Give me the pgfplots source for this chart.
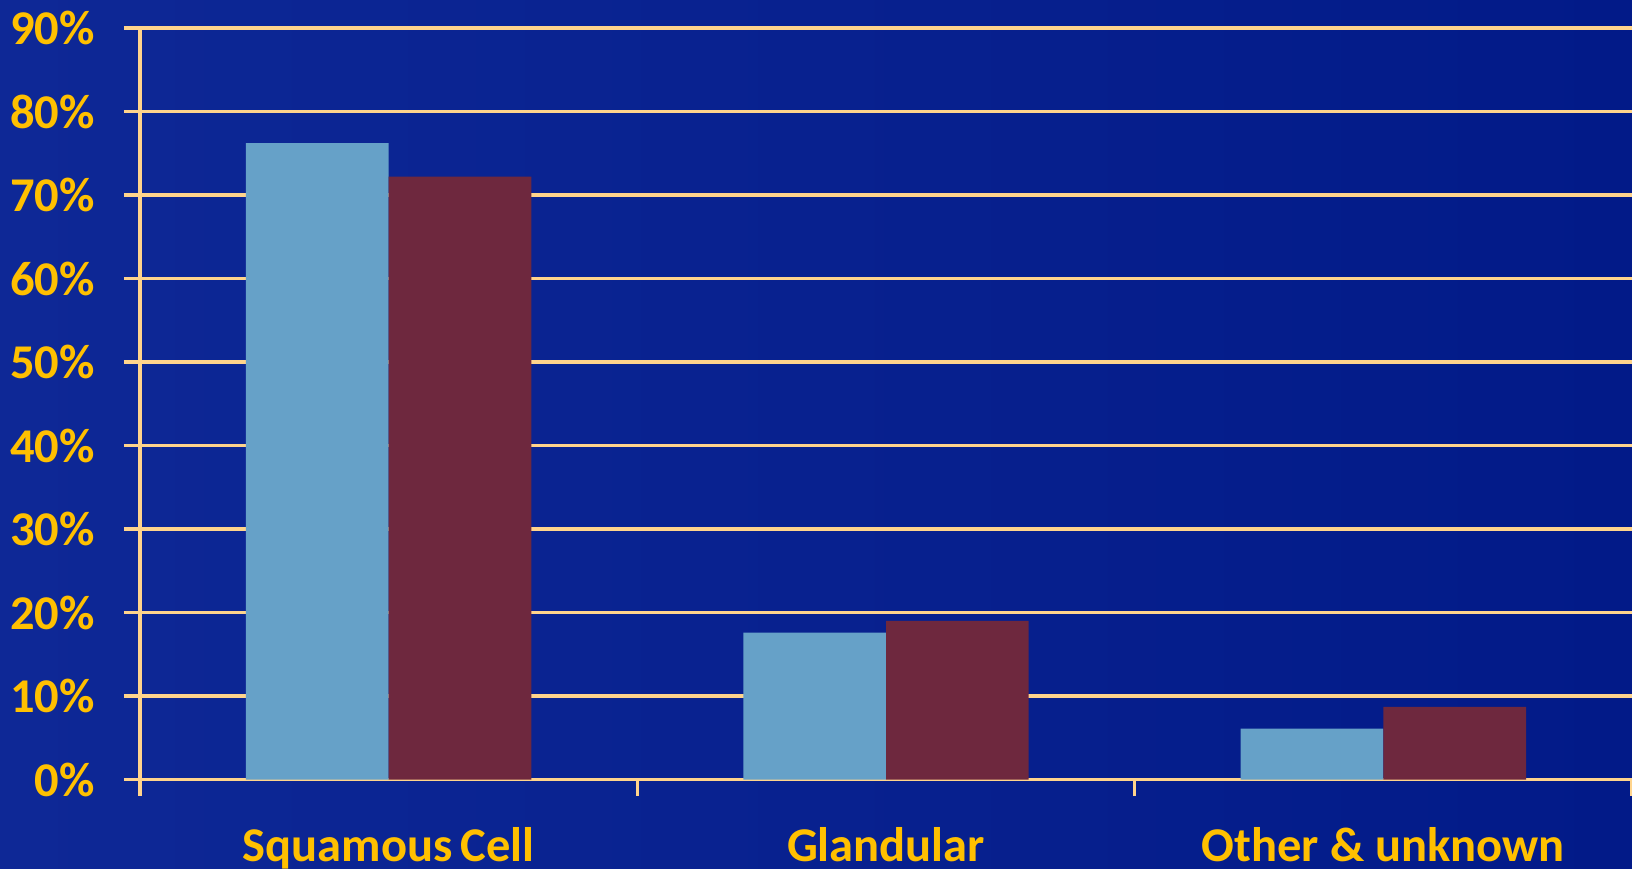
\documentclass[border=0pt]{standalone}
\usepackage{fontspec}
\setmainfont{Carlito}
\usepackage{pgfplots}
\pgfplotsset{compat=1.18}
\definecolor{bgL}{RGB}{14,40,150}
\definecolor{bgR}{RGB}{2,26,136}
\definecolor{gridc}{RGB}{255,212,140}
\definecolor{labc}{RGB}{255,192,0}
\definecolor{barA}{RGB}{102,161,200}
\definecolor{barB}{RGB}{110,40,62}
\begin{document}
\begin{tikzpicture}
\shade[left color=bgL, right color=bgR] (0,0) rectangle (16.32cm,8.68cm);
\begin{axis}[
  at={(1.40cm,0.885cm)}, anchor=south west,
  width=14.92cm, height=7.515cm, scale only axis,
  xmin=-0.5, xmax=2.5, ymin=0, ymax=90,
  axis x line*=bottom, axis y line*=left,
  axis line style={gridc, line width=0.9pt, -},
  ytick={0,10,...,90},
  yticklabel={\pgfmathprintnumber{\tick}\%},
  ymajorgrids, grid style={gridc, line width=0.9pt},
  major tick length=1.6mm, tick align=outside,
  tick style={gridc, line width=0.9pt},
  xtick={-0.5,0.5,1.5,2.5},
  xticklabels={},
  extra x ticks={0,1,2},
  extra x tick labels={Squamous\,Cell, Glandular, Other \& unknown},
  extra x tick style={major tick length=0pt, xticklabel style={yshift=-3.55mm}},
  /pgf/number format/assume math mode=true,
  tick label style={font=\fontsize{13.8}{16}\selectfont\bfseries, text=labc},
  yticklabel style={xshift=-1.7mm},
  ybar=0pt, bar width=0.287,
  clip=false,
]
\addplot[fill=barA, draw=none] coordinates {(0,76.2) (1,17.6) (2,6.1)};
\addplot[fill=barB, draw=none] coordinates {(0,72.2) (1,19.0) (2,8.7)};
\end{axis}
\pgfresetboundingbox
\path (0,0) rectangle (16.32cm,8.68cm);
\end{tikzpicture}
\end{document}
